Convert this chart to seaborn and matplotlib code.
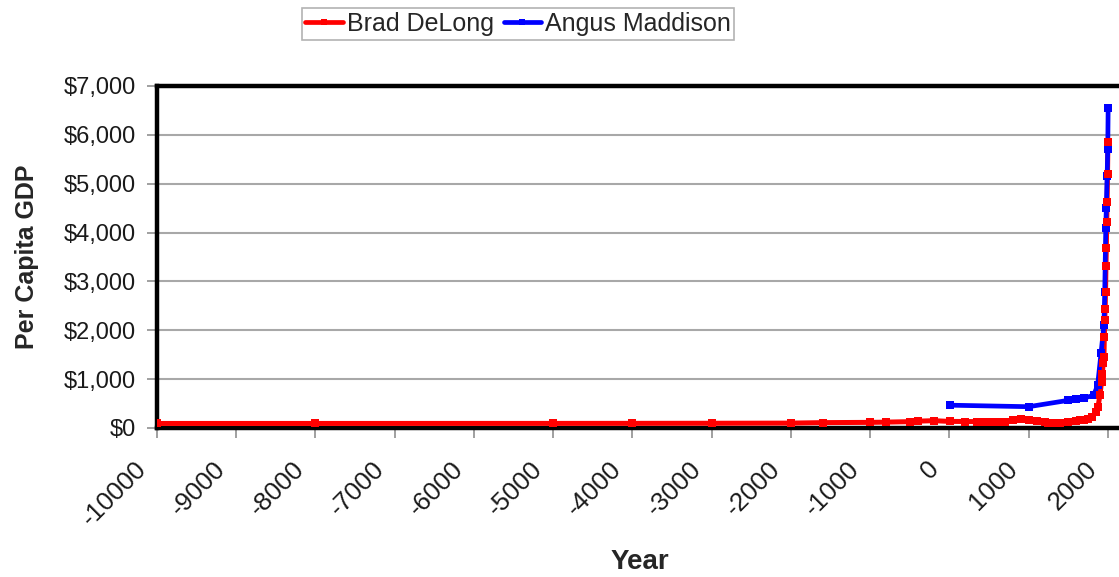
import matplotlib
matplotlib.use("Agg")
import matplotlib.pyplot as plt
import matplotlib.transforms as mtransforms
import seaborn as sns
import pandas as pd
from matplotlib.ticker import FuncFormatter
from matplotlib.lines import Line2D

# --- data ---
delong_years = [-10000, -8000, -5000, -4000, -3000, -2000, -1600, -1000, -800, -500,
                -400, -200, 1, 200, 350, 400, 500, 600, 700, 800, 900, 1000, 1100,
                1200, 1250, 1300, 1340, 1400, 1500, 1600, 1650, 1700, 1750, 1800,
                1850, 1875, 1900, 1920, 1925, 1930, 1940, 1950, 1955, 1960, 1965,
                1970, 1975, 1980, 1985, 1990, 1995, 2000]
delong_gdp = [93, 93, 94, 95, 97, 100, 110, 115, 120, 130,
              140, 150, 135, 133, 130, 126, 125, 124, 124, 160, 175, 165, 140,
              120, 100, 95, 100, 110, 130, 150, 160, 170, 190, 230,
              330, 430, 680, 950, 1050, 1100, 1340, 1460, 1870, 2220, 2430,
              2780, 3310, 3680, 4220, 4630, 5200, 5860]

maddison_years = [1, 1000, 1500, 1600, 1700, 1820, 1870, 1913, 1950, 1960,
                  1973, 1980, 1990, 1998, 2003]
maddison_gdp = [467, 436, 566, 596, 615, 667, 873, 1526, 2113, 2777,
                4091, 4512, 5150, 5709, 6540]

series_names = ["Brad DeLong", "Angus Maddison"]
y_ticks = list(range(0, 7001, 1000))
x_ticks = list(range(-10000, 2001, 1000))

dl = pd.DataFrame({"Year": delong_years, "GDP": delong_gdp})
md = pd.DataFrame({"Year": maddison_years, "GDP": maddison_gdp})

sns.set_style("white")
plt.rcParams["font.family"] = ["Liberation Sans", "DejaVu Sans"]

fig = plt.figure(figsize=(11.19, 5.77), dpi=100)
ax = fig.add_axes([157 / 1119, 1 - 428 / 577, 1 - 157 / 1119, (428 - 86) / 577])

RED = "#ff0000"
BLUE = "#0000ff"

# red line
sns.lineplot(data=dl, x="Year", y="GDP", ax=ax, color=RED, linewidth=3.6,
             zorder=3, legend=False, sort=False)
# blue line with markers
sns.lineplot(data=md, x="Year", y="GDP", ax=ax, color=BLUE, linewidth=3.4,
             marker="s", markersize=6, markeredgewidth=0, zorder=4,
             legend=False, sort=False)
# red markers on top
sns.scatterplot(data=dl, x="Year", y="GDP", ax=ax, color=RED, marker="s",
                s=30, linewidth=0, zorder=5, legend=False)

ax.set_xlim(-10000, 2140)
ax.set_ylim(0, 7000)
ax.set_xticks(x_ticks)
ax.set_yticks(y_ticks)
ax.yaxis.set_major_formatter(FuncFormatter(lambda v, p: "${:,.0f}".format(v)))
ax.set_xticklabels([str(t) for t in x_ticks], rotation=45, ha="right",
                   rotation_mode="anchor")

ax.grid(axis="y", color="#a8a8a8", linewidth=1.5, zorder=0)
ax.grid(axis="x", visible=False)
ax.set_axisbelow(True)

for side in ["top", "left", "bottom"]:
    ax.spines[side].set_color("black")
    ax.spines[side].set_linewidth(3.2)
    ax.spines[side].set_zorder(2)
ax.spines["right"].set_visible(False)

ax.tick_params(axis="y", which="major", length=7, width=1.2, color="#909090",
               labelsize=17, labelcolor="#1a1a1a", pad=8, left=True)
ax.tick_params(axis="x", which="major", length=7, width=1.2, color="#909090",
               labelsize=18.5, labelcolor="#1a1a1a", pad=10, bottom=True)

# shift x tick labels left/down (as in the reference)
offset = mtransforms.ScaledTranslation(-23 / 100, -5 / 100, fig.dpi_scale_trans)
for lbl in ax.get_xticklabels():
    lbl.set_transform(lbl.get_transform() + offset)

ax.set_xlabel("Year", fontsize=20, fontweight="bold", va="center")
ax.xaxis.set_label_coords((640 - 157) / 962, -(562 - 428) / 342)
ax.set_ylabel("Per Capita GDP", fontsize=18, fontweight="bold", labelpad=18)

handles = [Line2D([], [], color=RED, linewidth=3.4, marker="s", markersize=5,
                  markeredgewidth=0),
           Line2D([], [], color=BLUE, linewidth=3.4, marker="s", markersize=5,
                  markeredgewidth=0)]
leg = fig.legend(handles, series_names, loc="center", ncol=2,
                 bbox_to_anchor=(518 / 1119, 1 - 24 / 577), fontsize=18,
                 frameon=True, fancybox=False, edgecolor="#a0a0a0",
                 handlelength=1.5, handletextpad=0.15, columnspacing=0.4,
                 borderpad=0.15, borderaxespad=0.0)
leg.get_frame().set_linewidth(1.2)

fig.savefig("out.png", dpi=100)
